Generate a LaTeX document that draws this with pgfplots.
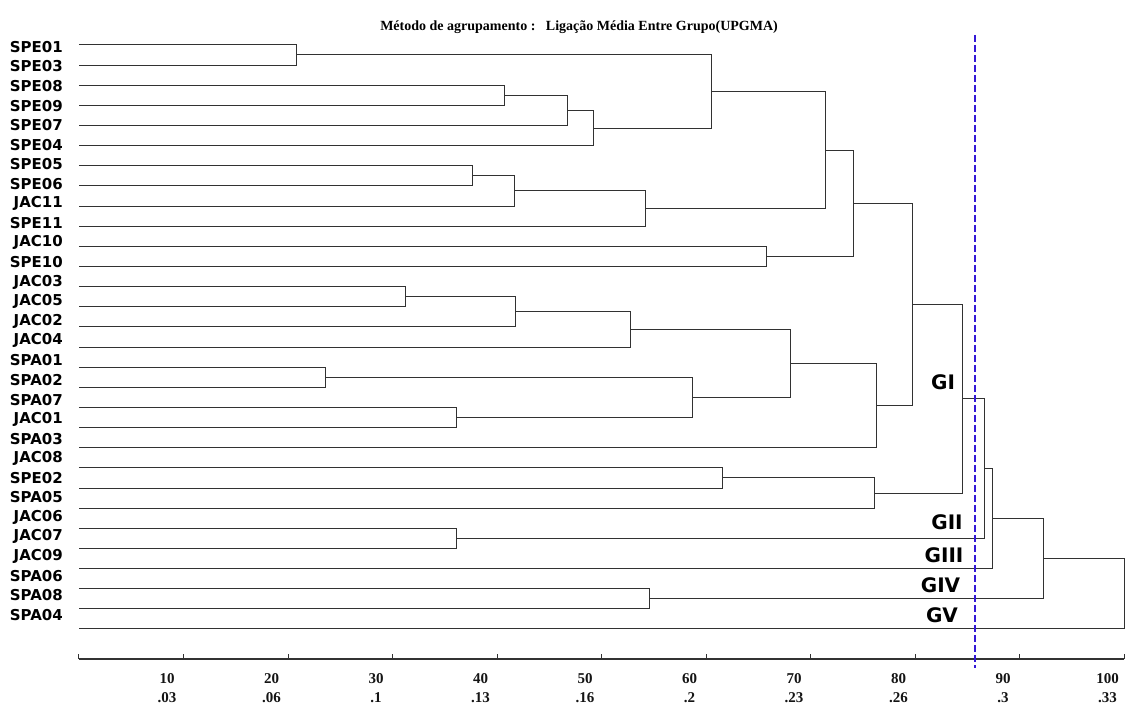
\documentclass[border=0pt]{standalone}
\usepackage{pgfplots}
\pgfplotsset{compat=1.18}
\usepackage{fontspec}
\setmainfont{Liberation Serif}
\newfontfamily\vsans{DejaVu Sans}
\definecolor{dline}{RGB}{50,50,50}
\definecolor{cutblue}{RGB}{52,24,214}
\begin{document}
\begin{tikzpicture}
\path[use as bounding box] (-79pt,-45pt) rectangle (1047pt,659pt);
\begin{axis}[
 at={(0pt,0pt)}, anchor=south west,
 x=10.45pt, y=20.14pt,
 xmin=0, xmax=100, ymin=-30.49, ymax=0.5,
 axis x line=bottom, axis y line=left,
 x axis line style={-, line width=1.4pt, draw=dline},
 y axis line style={-, draw=none},
 xtick={0,10,...,100},
 xticklabels={{},{10\\.03},{20\\.06},{30\\.1},{40\\.13},{50\\.16},{60\\.2},{70\\.23},{80\\.26},{90\\.3},{100\\.33}},
 tick align=inside, major tick length=5pt,
 xtick style={line width=1pt, draw=dline},
 ytick style={draw=none},
 xticklabel style={align=center, anchor=north, inner sep=0pt, yshift=-14pt, xshift=-16.5pt, font=\bfseries\fontsize{15}{19}\selectfont, text=black!92},
 ytick={-0.100,-1.073,-2.045,-3.018,-3.991,-4.964,-5.936,-6.909,-7.882,-8.854,-9.827,-10.800,-11.772,-12.745,-13.718,-14.691,-15.663,-16.636,-17.609,-18.581,-19.554,-20.527,-21.499,-22.472,-23.445,-24.418,-25.390,-26.363,-27.336,-28.308},
 yticklabels={SPE01,SPE03,SPE08,SPE09,SPE07,SPE04,SPE05,SPE06,JAC11,SPE11,JAC10,SPE10,JAC03,JAC05,JAC02,JAC04,SPA01,SPA02,SPA07,JAC01,SPA03,JAC08,SPE02,SPA05,JAC06,JAC07,JAC09,SPA06,SPA08,SPA04},
 yticklabel style={anchor=east, inner sep=0pt, xshift=-16pt, font=\vsans\bfseries\fontsize{15}{15}\selectfont},
 clip=false,
 br/.style={dline, line width=1pt, mark=none},
]
\addplot[br] coordinates {(0,0) (20.86,0) (20.86,-1) (0,-1)};
\addplot[br] coordinates {(0,-2) (40.67,-2) (40.67,-3) (0,-3)};
\addplot[br] coordinates {(40.67,-2.5) (46.79,-2.5) (46.79,-4) (0,-4)};
\addplot[br] coordinates {(46.79,-3.25) (49.19,-3.25) (49.19,-5) (0,-5)};
\addplot[br] coordinates {(20.86,-0.5) (60.48,-0.5) (60.48,-4.125) (49.19,-4.125)};
\addplot[br] coordinates {(0,-6) (37.70,-6) (37.70,-7) (0,-7)};
\addplot[br] coordinates {(37.70,-6.5) (41.63,-6.5) (41.63,-8) (0,-8)};
\addplot[br] coordinates {(41.63,-7.25) (54.21,-7.25) (54.21,-9) (0,-9)};
\addplot[br] coordinates {(60.48,-2.3125) (71.39,-2.3125) (71.39,-8.125) (54.21,-8.125)};
\addplot[br] coordinates {(0,-10) (65.79,-10) (65.79,-11) (0,-11)};
\addplot[br] coordinates {(71.39,-5.21875) (74.07,-5.21875) (74.07,-10.5) (65.79,-10.5)};
\addplot[br] coordinates {(0,-12) (31.29,-12) (31.29,-13) (0,-13)};
\addplot[br] coordinates {(31.29,-12.5) (41.76,-12.5) (41.76,-14) (0,-14)};
\addplot[br] coordinates {(41.76,-13.25) (52.82,-13.25) (52.82,-15) (0,-15)};
\addplot[br] coordinates {(0,-16) (23.61,-16) (23.61,-17) (0,-17)};
\addplot[br] coordinates {(0,-18) (36.11,-18) (36.11,-19) (0,-19)};
\addplot[br] coordinates {(23.61,-16.5) (58.71,-16.5) (58.71,-18.5) (36.11,-18.5)};
\addplot[br] coordinates {(52.82,-14.125) (68.13,-14.125) (68.13,-17.5) (58.71,-17.5)};
\addplot[br] coordinates {(68.13,-15.8125) (76.33,-15.8125) (76.33,-20) (0,-20)};
\addplot[br] coordinates {(74.07,-7.859) (79.78,-7.859) (79.78,-17.906) (76.33,-17.906)};
\addplot[br] coordinates {(0,-21) (61.58,-21) (61.58,-22) (0,-22)};
\addplot[br] coordinates {(61.58,-21.5) (76.08,-21.5) (76.08,-23) (0,-23)};
\addplot[br] coordinates {(79.78,-12.883) (84.55,-12.883) (84.55,-22.25) (76.08,-22.25)};
\addplot[br] coordinates {(0,-24) (36.17,-24) (36.17,-25) (0,-25)};
\addplot[br] coordinates {(84.55,-17.566) (86.65,-17.566) (86.65,-24.5) (36.17,-24.5)};
\addplot[br] coordinates {(86.65,-21.033) (87.46,-21.033) (87.46,-26) (0,-26)};
\addplot[br] coordinates {(0,-27) (54.64,-27) (54.64,-28) (0,-28)};
\addplot[br] coordinates {(87.46,-23.517) (92.34,-23.517) (92.34,-27.5) (54.64,-27.5)};
\addplot[br] coordinates {(92.34,-25.508) (100,-25.508) (100,-29) (0,-29)};
% cut line
\addplot[cutblue, line width=1.8pt, dash pattern=on 7pt off 3pt, mark=none] coordinates {(85.74,0.5) (85.74,-30.93)};
% title and group labels
\node[font=\bfseries\fontsize{14}{14}\selectfont, text=black] at (axis cs:47.85,0.894) {Método de agrupamento :\ \ \ Ligação Média Entre Grupo(UPGMA)};
\node[font=\vsans\bfseries\fontsize{20}{20}\selectfont] at (axis cs:82.68,-16.73) {GI};
\node[font=\vsans\bfseries\fontsize{20}{20}\selectfont] at (axis cs:83.06,-23.68) {GII};
\node[font=\vsans\bfseries\fontsize{20}{20}\selectfont] at (axis cs:82.78,-25.35) {GIII};
\node[font=\vsans\bfseries\fontsize{20}{20}\selectfont] at (axis cs:82.44,-26.81) {GIV};
\node[font=\vsans\bfseries\fontsize{20}{20}\selectfont] at (axis cs:82.58,-28.34) {GV};
\end{axis}
\end{tikzpicture}
\end{document}
